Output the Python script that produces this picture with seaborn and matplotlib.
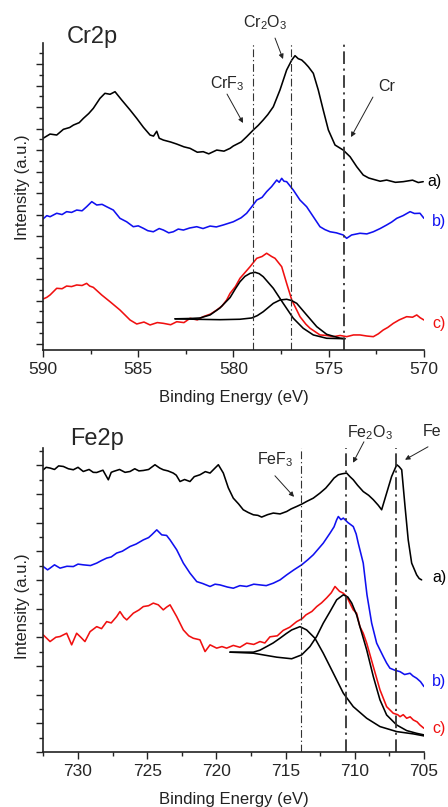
import pandas as pd
import seaborn as sns
import matplotlib.pyplot as plt
import matplotlib.transforms as mtransforms
from matplotlib.ticker import MultipleLocator

# ---- Cr2p panel: (binding energy eV, intensity a.u. incl. vertical offset) ----
cr_a = [(590.0, 19.09), (589.63, 19.49), (589.28, 19.4), (588.93, 19.93), (588.6, 20.1), (588.4, 20.33),
        (588.1, 20.55), (587.88, 20.95), (587.6, 21.4), (587.36, 21.88), (587.01, 22.81), (586.75, 23.28),
        (586.48, 23.19), (586.22, 23.43), (585.87, 22.66), (585.43, 21.73), (585.08, 20.95), (584.73, 20.12),
        (584.38, 19.4), (584.2, 19.3), (584.03, 19.75), (583.9, 19.1), (583.68, 18.93), (583.3, 18.75),
        (582.98, 18.56), (582.6, 18.3), (582.28, 18.16), (581.9, 17.8), (581.59, 17.85), (581.3, 17.65),
        (580.88, 18.0), (580.5, 17.9), (580.18, 18.16), (580.01, 18.38), (579.6, 18.75), (579.31, 19.24),
        (578.96, 19.87), (578.7, 20.3), (578.44, 20.8), (578.2, 21.3), (577.91, 22.03), (577.56, 23.59),
        (577.21, 25.45), (576.94, 26.38), (576.77, 26.78), (576.6, 26.5), (576.42, 26.38), (576.25, 26.1),
        (576.07, 25.75), (575.81, 25.14), (575.55, 23.59), (575.29, 21.73), (575.02, 19.87), (574.67, 18.47),
        (574.24, 18.0), (573.88, 17.38), (573.53, 16.45), (573.19, 15.68), (572.9, 15.4), (572.66, 15.28),
        (572.3, 15.1), (571.96, 15.21), (571.5, 15.0), (571.09, 15.06), (570.6, 15.2), (570.3, 14.98),
        (570.04, 15.06)]
cr_b = [(590.0, 11.59), (589.8, 11.9), (589.63, 11.8), (589.28, 12.12), (589.0, 12.0), (588.76, 12.27),
        (588.5, 12.2), (588.23, 12.42), (587.95, 12.35), (587.71, 12.73), (587.44, 13.2), (587.18, 12.89),
        (586.9, 12.95), (586.66, 12.73), (586.31, 12.42), (585.96, 11.65), (585.61, 11.33), (585.26, 10.87),
        (585.0, 10.95), (584.73, 10.72), (584.5, 10.5), (584.21, 10.4), (583.9, 10.7), (583.68, 10.56),
        (583.4, 10.3), (583.16, 10.4), (582.9, 10.65), (582.63, 10.56), (582.3, 10.75), (581.93, 10.87),
        (581.6, 10.7), (581.23, 10.93), (580.9, 10.85), (580.54, 11.03), (580.01, 11.33), (579.6, 11.7),
        (579.31, 12.12), (579.04, 12.73), (578.78, 13.35), (578.5, 13.6), (578.26, 14.13), (578.0, 14.6),
        (577.73, 15.21), (577.6, 15.0), (577.47, 15.37), (577.35, 15.1), (577.21, 15.06), (576.86, 14.28),
        (576.51, 13.35), (576.16, 12.73), (575.81, 11.8), (575.46, 10.87), (575.2, 10.6), (574.93, 10.4),
        (574.6, 10.3), (574.24, 10.1), (574.06, 9.79), (573.8, 10.1), (573.36, 10.26), (573.0, 10.2),
        (572.66, 10.4), (572.3, 10.7), (571.96, 11.03), (571.7, 11.3), (571.43, 11.65), (571.1, 11.9),
        (570.73, 12.27), (570.5, 12.1), (570.21, 12.12), (570.0, 11.65)]
cr_c = [(590.0, 4.14), (589.8, 4.3), (589.63, 4.52), (589.28, 5.14), (589.0, 5.1), (588.76, 5.35),
        (588.5, 5.3), (588.23, 5.45), (587.95, 5.4), (587.71, 5.6), (587.55, 5.35), (587.36, 5.23),
        (586.92, 4.52), (586.48, 3.89), (585.96, 3.12), (585.43, 2.19), (585.08, 1.82), (584.7, 2.0),
        (584.38, 1.73), (584.0, 1.95), (583.68, 1.88), (583.3, 1.75), (582.98, 2.03), (582.6, 1.95),
        (582.28, 2.35), (581.9, 2.2), (581.59, 2.5), (581.2, 2.75), (580.88, 3.12), (580.6, 3.5),
        (580.36, 4.05), (580.18, 4.67), (579.9, 5.3), (579.66, 6.07), (579.4, 6.6), (579.13, 7.15),
        (578.78, 7.93), (578.5, 8.1), (578.26, 8.4), (578.0, 8.1), (577.82, 7.93), (577.47, 7.15),
        (577.21, 5.6), (576.94, 4.05), (576.51, 2.5), (576.2, 1.8), (575.98, 1.42), (575.46, 0.8),
        (575.1, 0.75), (574.76, 0.64), (574.4, 0.75), (574.06, 0.64), (573.7, 0.8), (573.36, 0.8),
        (573.0, 0.7), (572.66, 0.64), (572.4, 0.9), (572.14, 1.26), (571.9, 1.5), (571.61, 1.88),
        (571.3, 2.2), (570.91, 2.5), (570.6, 2.45), (570.38, 2.66), (570.2, 2.4), (570.0, 2.19)]
cr_fit1 = [(583.07, 2.3), (582.28, 2.33), (581.76, 2.38), (581.23, 2.66), (580.71, 3.31), (580.18, 4.28),
           (579.9, 5.1), (579.66, 5.75), (579.4, 6.25), (579.13, 6.53), (578.87, 6.63), (578.65, 6.5),
           (578.44, 6.22), (577.91, 5.14), (577.39, 3.74), (576.86, 2.35), (576.34, 1.42), (575.81, 0.8),
           (575.11, 0.49), (574.15, 0.45)]
cr_fit2 = [(583.07, 2.3), (581.76, 2.25), (580.71, 2.22), (579.66, 2.26), (579.04, 2.38), (578.75, 2.6),
           (578.44, 2.96), (577.91, 3.74), (577.56, 4.05), (577.21, 4.12), (576.95, 4.0), (576.68, 3.74),
           (576.16, 2.66), (575.63, 1.57), (575.11, 0.86), (574.41, 0.5), (574.15, 0.45)]
cr_refs = [579.0, 577.0, 574.2]

# ---- Fe2p panel ----
fe_a = [(732.51, 19.68), (732.3, 19.85), (732.02, 19.8), (731.7, 19.7), (731.4, 19.95), (731.06, 19.91),
        (730.7, 19.75), (730.34, 19.68), (730.0, 19.85), (729.62, 19.56), (729.2, 19.7), (728.9, 19.5),
        (728.65, 19.49), (728.2, 19.65), (727.81, 18.98), (727.6, 19.5), (727.45, 19.56), (727.0, 19.7),
        (726.6, 19.5), (726.24, 19.56), (725.9, 19.75), (725.6, 19.6), (725.28, 19.63), (724.9, 19.7),
        (724.44, 20.03), (724.1, 19.8), (723.84, 19.68), (723.5, 19.6), (723.12, 19.45), (722.9, 19.3),
        (722.63, 18.86), (722.3, 19.0), (721.91, 18.86), (721.6, 19.2), (721.19, 19.33), (720.8, 19.55),
        (720.46, 19.45), (720.1, 19.8), (719.86, 20.03), (719.5, 19.45), (719.14, 18.42), (718.78, 17.7),
        (718.4, 17.3), (718.06, 16.89), (717.7, 16.7), (717.33, 16.54), (717.0, 16.5), (716.73, 16.38),
        (716.3, 16.55), (715.89, 16.66), (715.4, 16.6), (714.92, 16.77), (714.6, 16.95), (714.2, 17.12),
        (713.8, 17.3), (713.48, 17.47), (713.0, 17.7), (712.52, 18.05), (712.1, 18.4), (711.79, 18.75),
        (711.5, 19.1), (711.19, 19.33), (710.9, 19.4), (710.59, 19.45), (710.35, 19.2), (710.11, 18.98),
        (709.8, 18.6), (709.39, 18.16), (709.0, 17.9), (708.66, 17.59), (708.3, 17.2), (708.06, 16.89),
        (707.7, 18.05), (707.34, 19.21), (706.97, 20.03), (706.8, 19.9), (706.61, 19.68), (706.37, 17.12),
        (706.14, 14.79), (705.89, 13.17), (705.53, 12.35), (705.35, 12.1), (705.17, 12.0)]
fe_b = [(732.51, 12.93), (732.2, 12.7), (732.02, 12.82), (731.7, 13.05), (731.3, 12.82), (730.8, 12.95),
        (730.34, 12.93), (730.0, 13.1), (729.62, 13.05), (729.1, 13.0), (728.65, 13.17), (728.3, 13.35),
        (727.93, 13.52), (727.6, 13.6), (727.21, 13.87), (726.8, 14.0), (726.24, 14.33), (725.8, 14.5),
        (725.28, 14.79), (724.9, 14.95), (724.68, 15.14), (724.31, 15.49), (723.95, 15.14), (723.6, 15.1),
        (723.35, 14.79), (722.87, 14.1), (722.39, 13.17), (721.91, 12.47), (721.42, 11.88), (721.0, 11.75),
        (720.46, 11.54), (720.1, 11.7), (719.74, 11.65), (719.2, 11.5), (718.78, 11.42), (718.3, 11.6),
        (717.81, 11.54), (717.3, 11.7), (716.85, 11.65), (716.4, 11.6), (715.89, 11.77), (715.4, 12.0),
        (714.92, 12.35), (714.4, 12.7), (713.84, 13.05), (713.4, 13.4), (713.0, 13.75), (712.6, 14.2),
        (712.28, 14.56), (711.79, 15.26), (711.5, 15.7), (711.31, 16.19), (711.19, 16.42), (711.0, 16.2),
        (710.83, 16.31), (710.5, 16.0), (710.11, 15.72), (709.9, 15.2), (709.75, 14.56), (709.39, 13.17),
        (709.12, 10.96), (708.78, 8.98), (708.42, 7.59), (707.94, 6.65), (707.7, 6.2), (707.46, 5.84),
        (707.1, 5.7), (706.73, 5.6), (706.4, 5.4), (706.01, 5.49), (705.8, 5.3), (705.53, 5.14),
        (705.25, 4.9), (705.0, 4.56)]
fe_c = [(732.51, 8.16), (732.02, 7.7), (731.6, 8.0), (731.3, 8.05), (730.82, 8.28), (730.46, 7.47),
        (730.1, 8.28), (729.8, 8.0), (729.5, 7.7), (729.13, 8.39), (728.65, 8.74), (728.3, 8.6),
        (727.93, 9.09), (727.6, 9.0), (727.21, 9.44), (726.97, 9.79), (726.7, 9.4), (726.48, 9.21),
        (726.0, 9.68), (725.6, 9.9), (725.28, 10.14), (724.9, 10.2), (724.56, 10.38), (724.2, 10.26),
        (723.84, 9.91), (723.6, 10.1), (723.35, 10.26), (722.87, 9.44), (722.39, 8.51), (722.0, 8.1),
        (721.67, 7.93), (721.19, 7.82), (720.82, 7.0), (720.46, 7.47), (719.98, 7.24), (719.6, 7.35),
        (719.26, 7.24), (718.78, 7.43), (718.3, 7.3), (717.81, 7.59), (717.3, 7.5), (716.85, 7.7),
        (716.5, 7.6), (716.13, 8.03), (715.6, 8.1), (715.17, 8.48), (714.7, 8.7), (714.2, 9.09),
        (713.8, 9.3), (713.53, 9.56), (713.1, 9.8), (712.75, 10.14), (712.4, 10.4), (712.03, 10.75),
        (711.7, 11.1), (711.43, 11.54), (711.1, 11.2), (710.83, 11.07), (710.59, 10.84), (710.11, 9.91),
        (709.87, 9.68), (709.63, 8.74), (709.39, 8.28), (709.14, 7.59), (708.66, 5.95), (708.18, 4.33),
        (707.7, 3.16), (707.22, 2.7), (706.9, 2.6), (706.73, 2.46), (706.5, 2.6), (706.25, 2.35),
        (706.0, 2.45), (705.77, 2.23), (705.5, 2.1), (705.29, 1.88), (705.0, 1.65)]
fe_fit1 = [(719.02, 6.96), (717.33, 6.96), (716.85, 7.1), (716.37, 7.35), (715.9, 7.6), (715.41, 7.93),
           (714.96, 8.25), (714.56, 8.51), (713.96, 8.74), (713.48, 8.51), (712.88, 7.93), (712.28, 6.89),
           (711.55, 5.49), (710.83, 4.1), (710.11, 3.16), (709.14, 2.35), (708.18, 1.77), (706.97, 1.42),
           (705.77, 1.26), (705.0, 1.12)]
fe_fit2 = [(719.02, 6.96), (717.33, 6.89), (716.5, 6.75), (715.64, 6.61), (714.56, 6.5), (713.84, 6.77),
           (713.24, 7.35), (712.76, 8.05), (712.28, 8.98), (711.79, 9.79), (711.31, 10.61), (710.83, 10.96),
           (710.5, 10.8), (710.22, 10.38), (709.87, 9.56), (709.63, 8.74), (709.14, 7.12), (708.66, 5.25),
           (708.18, 3.63), (707.7, 2.58), (706.97, 1.88), (706.25, 1.49), (705.53, 1.3), (705.0, 1.19)]
fe_refs = [713.9, 710.6, 707.0]

sns.set_style("ticks")
plt.rcParams["font.family"] = ["Liberation Sans", "DejaVu Sans"]
plt.rcParams["mathtext.fontset"] = "custom"
plt.rcParams["mathtext.rm"] = "Liberation Sans"
plt.rcParams["mathtext.it"] = "Liberation Sans:italic"

fig = plt.figure(figsize=(4.48, 8.07), dpi=100)
ax1 = fig.add_axes([0.096, 0.5663, 0.8504, 0.3804])
ax2 = fig.add_axes([0.096, 0.0682, 0.8504, 0.3767])

DASHDOT = (0, (7, 2.5, 1.2, 2.5))


def spectrum(ax, pts, color):
    df = pd.DataFrame(pts, columns=["be", "intensity"])
    sns.lineplot(data=df, x="be", y="intensity", color=color, lw=1.15,
                 sort=False, errorbar=None, ax=ax)


def style(ax, xlim, ylim):
    ax.set_xlim(*xlim)
    ax.set_ylim(*ylim)
    sns.despine(ax=ax)
    for s in ("left", "bottom"):
        ax.spines[s].set_linewidth(1.2)
        ax.spines[s].set_color("#222222")
    ax.xaxis.set_major_locator(MultipleLocator(5))
    ax.xaxis.set_minor_locator(MultipleLocator(2.5))
    ax.yaxis.set_major_locator(MultipleLocator(2))
    ax.yaxis.set_minor_locator(MultipleLocator(1))
    ax.tick_params(which="major", length=5, width=1, color="#222222", labelsize=12.5, pad=4)
    ax.tick_params(which="minor", length=3, width=1, color="#222222")
    ax.tick_params(axis="y", labelleft=False)
    ax.set_xlabel("Binding Energy (eV)", fontsize=12, labelpad=9, color="#222222")
    ax.set_ylabel("Intensity (a.u.)", fontsize=12, color="#222222")


def arrow(ax, start, end):
    ax.annotate("", xy=end, xytext=start, annotation_clip=False,
                arrowprops=dict(arrowstyle="-|>", lw=0.7, color="#222222",
                                mutation_scale=7, shrinkA=0, shrinkB=0))


# ---------------- Cr2p ----------------
for pts, col in [(cr_a, "black"), (cr_b, "#1010f0"), (cr_c, "#f01010")]:
    spectrum(ax1, pts, col)
for pts in (cr_fit1, cr_fit2):
    spectrum(ax1, pts, "black")
for be, lw in zip(cr_refs, [0.8, 0.8, 1.3]):
    ax1.axvline(be, color="#333333", lw=lw, ls=DASHDOT)
style(ax1, (590, 570), (-0.6, 27.96))
ax1.yaxis.set_label_coords(-0.035, 0.53)
ax1.text(0.063, 1.0, "Cr2p", transform=ax1.transAxes, fontsize=17, va="baseline")
ax1.text(578.35, 29.9, r"Cr$_2$O$_3$", ha="center", va="center", fontsize=11.5)
arrow(ax1, (577.82, 28.42), (577.4, 26.47))
ax1.text(580.31, 24.14, r"CrF$_3$", ha="center", va="center", fontsize=11.5)
arrow(ax1, (580.34, 23.21), (579.5, 20.52))
ax1.text(571.94, 23.87, "Cr", ha="center", va="center", fontsize=11.5)
arrow(ax1, (572.68, 22.93), (573.83, 19.21))
tr1 = mtransforms.blended_transform_factory(ax1.transAxes, ax1.transData)
for lab, y, x, col in [("a)", 15.12, 1.008, "black"), ("b)", 11.34, 1.021, "#1010f0"), ("c)", 1.91, 1.021, "#f01010")]:
    ax1.text(x, y, lab, transform=tr1, color=col, fontsize=11.5, va="center", ha="left", clip_on=False)

# ---------------- Fe2p ----------------
for pts, col in [(fe_a, "black"), (fe_b, "#1010f0"), (fe_c, "#f01010")]:
    spectrum(ax2, pts, col)
for pts in (fe_fit1, fe_fit2):
    spectrum(ax2, pts, "black")
for be, lw in zip(fe_refs, [0.8, 1.3, 1.3]):
    ax2.axvline(be, color="#333333", lw=lw, ls=DASHDOT)
style(ax2, (732.53, 705), (0, 21.2))
ax2.yaxis.set_label_coords(-0.035, 0.48)
ax2.text(0.071, 1.01, "Fe2p", transform=ax2.transAxes, fontsize=17, va="baseline")
ax2.text(715.77, 20.38, r"FeF$_3$", ha="center", va="center", fontsize=11.5)
arrow(ax2, (715.77, 19.26), (714.39, 17.79))
ax2.text(708.9, 22.3, r"Fe$_2$O$_3$", ha="center", va="center", fontsize=11.5)
arrow(ax2, (709.34, 21.63), (710.13, 20.17))
ax2.text(704.42, 22.37, "Fe", ha="center", va="center", fontsize=11.5)
arrow(ax2, (704.71, 21.28), (706.37, 20.38))
tr2 = mtransforms.blended_transform_factory(ax2.transAxes, ax2.transData)
for lab, y, col in [("a)", 12.14, "black"), ("b)", 4.88, "#1010f0"), ("c)", 1.67, "#f01010")]:
    ax2.text(1.021, y, lab, transform=tr2, color=col, fontsize=11.5, va="center", ha="left", clip_on=False)

fig.savefig("out.png", dpi=100)
